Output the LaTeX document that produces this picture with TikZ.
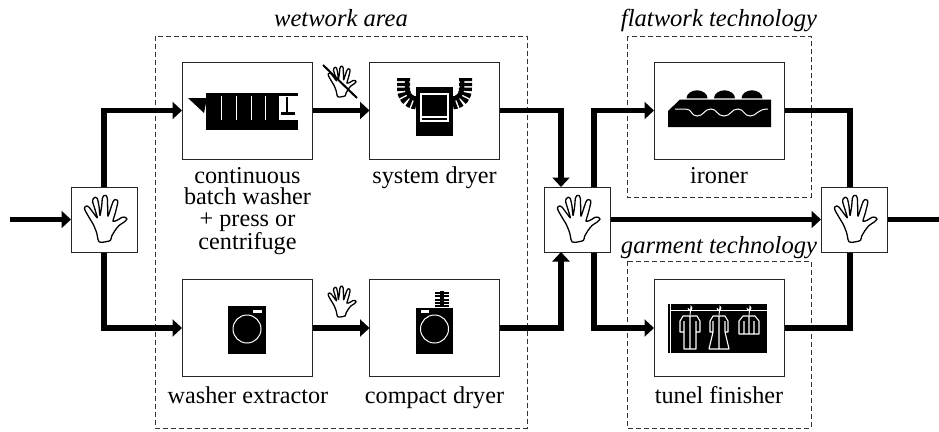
\documentclass[tikz,border=0pt]{standalone}
\usepackage{fontspec}
\setmainfont{Liberation Serif}
\usetikzlibrary{arrows.meta,calc}
\tikzset{
  flow/.style={line width=5.5pt,draw=black,-{Triangle[length=9.5pt,width=17pt]},shorten >=-0.5pt},
  flowline/.style={line width=5.5pt,draw=black},
  unit/.style={draw=black!85,line width=1pt,fill=white,minimum width=130pt,minimum height=97pt,inner sep=0pt},
  handbox/.style={draw=black!85,line width=1pt,fill=white,minimum width=66pt,minimum height=65pt,inner sep=0pt},
  area/.style={draw=black!80,line width=0.8pt,dash pattern=on 5pt off 3pt},
  lab/.style={font=\fontsize{24.2}{21.5}\selectfont,align=center,inner sep=0pt},
  title/.style={font=\fontsize{24.6}{25}\selectfont\itshape,inner sep=0pt},
  wl/.style={draw=white,line width=1pt},
  hand/.pic={
    \draw[line width=1.3pt,fill=white,line join=round,scale=1/3,xshift=-110pt,yshift=145pt]
      plot[smooth cycle,tension=0.4] coordinates{
      (92,205)(88,185)(78,160)(66,140)(53,117)(52,108)(58,104)(65,108)(78,125)(90,140)
      (83,115)(76,92)(78,82)(84,78)(90,82)(95,105)(98,133)
      (103,105)(105,82)(110,73)(116,73)(120,82)(121,110)(122,135)
      (130,112)(137,92)(143,85)(150,87)(151,96)(144,125)(137,150)
      (150,147)(165,138)(175,139)(179,144)(170,153)(155,163)(143,178)(133,195)(129,208)(108,213)(95,212)};
  }
}
\begin{document}
\begin{tikzpicture}[x=1pt,y=-1pt,every node/.style={}]
\useasboundingbox (0,0) rectangle (939,431);
% dashed areas
\draw[area] (155,36) rectangle (527,428);
\draw[area] (627,36) rectangle (811,197);
\draw[area] (627,261) rectangle (811,428);
% units
\node[unit] (washer) at (247,110.5) {};
\node[unit] (dryer) at (434.5,110.5) {};
\node[unit] (extractor) at (247,328) {};
\node[unit] (compact) at (434.5,328) {};
\node[unit] (ironer) at (719,110.5) {};
\node[unit] (finisher) at (719,328) {};
\node[handbox] (h1) at (104,219.5) {};
\node[handbox] (h2) at (577,219.5) {};
\node[handbox] (h3) at (854,219.5) {};
\coordinate (in) at (10,219.5);
\coordinate (out) at (939,219.5);
% connectors
\draw[flow] (in) -- (h1.west);
\draw[flow] (h1.north) |- (washer.west);
\draw[flow] (h1.south) |- (extractor.west);
\draw[flow] (washer.east) -- (dryer.west);
\draw[flow] (extractor.east) -- (compact.west);
\draw[flow] (dryer.east) -| ([xshift=-16pt]h2.north);
\draw[flow] (compact.east) -| ([xshift=-16pt]h2.south);
\draw[flow] ([xshift=17pt]h2.north) |- (ironer.west);
\draw[flow] ([xshift=17pt]h2.south) |- (finisher.west);
\draw[flow] (h2.east) -- (h3.west);
\draw[flowline] (ironer.east) -| ([xshift=-4pt]h3.north);
\draw[flowline] (finisher.east) -| ([xshift=-4pt]h3.south);
\draw[flowline] (h3.east) -- (out);
% hands
\pic at (h1) {hand};
\pic at (h2) {hand};
\pic at (h3) {hand};
\pic[scale=.66] at (341,82) {hand};
\pic[scale=.66] at (341,302) {hand};
\draw[line width=2pt] (323,65) -- (357,98);
% washer icon
\fill (206,93) rectangle (298,130);
\fill (188,98) -- (207,98) -- (204,113) -- cycle;
\foreach \x in {221,236,251,265} \draw[wl] (\x,96) -- (\x,120);
\fill[white] (279,96) rectangle (298,120);
\fill (281,111.5) rectangle (295,114.5);
\fill (286.2,97) rectangle (287.8,112);
% dryer icon
\fill (416,87) rectangle (453,136);
\draw[white,line width=1.2pt] (421,94) rectangle (448,121);
\draw[white,line width=1.2pt] (421,117) -- (448,117);
\foreach \s in {1,-1}{
  \begin{scope}[shift={(434.5,0)},xscale=\s]
  \draw[line width=13pt,dash pattern=on 3.2pt off 1.6pt] (-31,78) -- (-31,88) .. controls (-31,96) and (-27,102) .. (-18,103);
  \draw[line width=4.5pt] (-27.5,78) -- (-27.5,88) .. controls (-27.5,94) and (-24,98.5) .. (-18,99);
  \end{scope}}
% extractor icon
\fill (228,306) rectangle (266,354);
\draw[white,line width=1pt] (247,329) circle (14);
\fill[white] (253,310) rectangle (262,312.5);
% compact icon
\fill (416,308) rectangle (453,354);
\draw[white,line width=1pt] (434.5,329) circle (14);
\fill[white] (421,310) rectangle (428.5,312.5);
\fill (440,291) rectangle (444,307);
\foreach \y in {291.5,295,298.5,302,305} \fill (435,\y) rectangle (449,\y+2.2);
% ironer icon
\foreach \x in {697,724.5,752} \fill (\x-10.5,98.3) arc[start angle=180,end angle=360,x radius=10.5,y radius=8];
\fill (680,99.5) -- (771,99.5) -- (771,127) -- (668,127) -- (668,111) -- cycle;
\draw[white,line width=1pt] (675,109) -- (686,109)
  .. controls (692,109) and (691,116) .. (697,116)
  .. controls (704,116) and (704,109) .. (711,109)
  .. controls (717,109) and (717,116) .. (724,116)
  .. controls (731,116) and (731,109) .. (738,109)
  .. controls (744,109) and (744,116) .. (750,116)
  .. controls (757,116) and (757,109) .. (768,109);
% finisher icon
\fill (668,304) rectangle (768,353);
\draw[wl] (670,304) -- (670,353);
\draw[wl] (767,304) -- (767,353);
\draw[wl] (670,310) -- (767,310);
\foreach \x in {690,719,749}{
  \draw[white,line width=.9pt] (\x-2,308) arc[start angle=180,end angle=-60,radius=2] -- (\x,315);}
\draw[white,line width=1.1pt,line join=round] (683,316) -- (697,316) -- (700,321) -- (700,332) -- (696,332) -- (696,349) -- (684,349) -- (684,332) -- (680,332) -- (680,321) -- cycle (690,316) -- (690,349) (684,321) -- (684,332) (696,321) -- (696,332);
\draw[white,line width=1.1pt,line join=round] (713,316) -- (725,316) -- (728,321) -- (728,332) -- (725,332) -- (729,349) -- (709,349) -- (713,332) -- (710,332) -- (710,321) -- cycle (719,316) -- (719,349) (713,321) -- (713,332) (725,321) -- (725,332);
\draw[white,line width=1.1pt,line join=round] (743,316) -- (755,316) -- (759,321) -- (759,334) -- (739,334) -- (739,321) -- cycle (749,316) -- (749,334) (744,321) -- (744,334) (754,321) -- (754,334);
% labels
\node[lab,anchor=north] (l1) at (247.5,167) {continuous\\batch washer\\+ press or\\centrifuge};
\node[lab,anchor=base] (l2) at (434.5,183) {system dryer};
\node[lab,anchor=base] (l3) at (719,183) {ironer};
\node[lab,anchor=base] (l4) at (248,403) {washer extractor};
\node[lab,anchor=base] (l5) at (434.5,403) {compact dryer};
\node[lab,anchor=base] (l6) at (719,403) {tunel finisher};
\node[title,anchor=base] (t1) at (341,27) {wetwork area};
\node[title,anchor=base] (t2) at (719,26) {flatwork technology};
\node[title,anchor=base] (t3) at (719,253) {garment technology};
\end{tikzpicture}
\end{document}
